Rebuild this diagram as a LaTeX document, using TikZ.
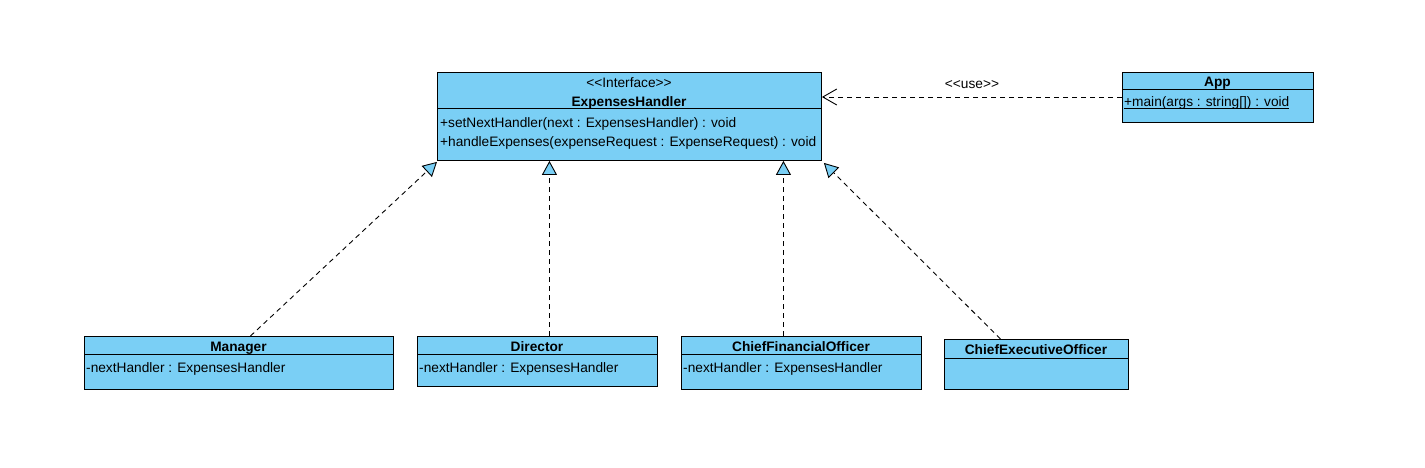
\documentclass[tikz,border=0pt]{standalone}
\usepackage{fontspec}
\setmainfont{Liberation Sans}[Ligatures=TeXOff]
\usetikzlibrary{math}
\usetikzlibrary{arrows.meta}
\definecolor{clsblue}{RGB}{122,207,245}
\newcommand{\undl}[1]{\setbox0\hbox{#1}\rlap{\rule[-2.2pt]{\wd0}{0.8pt}}\box0}
\tikzset{
	box/.style={draw, fill=clsblue, line width=0.9pt, inner sep=0pt, anchor=north west},
	txt/.style={inner sep=0pt, font=\fontsize{13.7}{16}\selectfont},
	realize/.style={dash pattern=on 5pt off 4pt, line width=0.9pt, -{Triangle[length=14pt,width=15pt,fill=clsblue]}},
	usedep/.style={dash pattern=on 5pt off 4pt, line width=0.9pt, -{Straight Barb[length=14pt,width=16pt]}},
}

\begin{document}
\begin{tikzpicture}[x=1pt,y=-1pt]
	\useasboundingbox (0,0) rectangle (1425,467);
	\tikzmath{\ehx=437; \ehw=384; \eht=72; \ehm=108; \ehb=160;
	\apx=1122; \apw=191; \apt=72; \apm=89; \apb=122;
	\rowt=336; \rowm=354; \rowb=389; \drb=386;
	\mgx=84; \mgw=309;
	\drx=417; \drw=240;
	\cfx=681; \cfw=240;
	\cex=944; \cew=184; \cet=339; \cem=358;
	}
	% boxes
	\node[box, minimum width=\ehw, minimum height=\ehm-\eht] (ehh) at (\ehx,\eht) {};
	\node[box, minimum width=\ehw, minimum height=\ehb-\ehm] (ehbd) at (\ehx,\ehm) {};
	\node[box, minimum width=\apw, minimum height=\apm-\apt] (aph) at (\apx,\apt) {};
	\node[box, minimum width=\apw, minimum height=\apb-\apm] (apbd) at (\apx,\apm) {};
	\node[box, minimum width=\mgw, minimum height=\rowm-\rowt] (mgh) at (\mgx,\rowt) {};
	\node[box, minimum width=\mgw, minimum height=\rowb-\rowm] (mgbd) at (\mgx,\rowm) {};
	\node[box, minimum width=\drw, minimum height=\rowm-\rowt] (drh) at (\drx,\rowt) {};
	\node[box, minimum width=\drw, minimum height=\drb-\rowm] (drbd) at (\drx,\rowm) {};
	\node[box, minimum width=\cfw, minimum height=\rowm-\rowt] (cfh) at (\cfx,\rowt) {};
	\node[box, minimum width=\cfw, minimum height=\rowb-\rowm] (cfbd) at (\cfx,\rowm) {};
	\node[box, minimum width=\cew, minimum height=\cem-\cet] (ceh) at (\cex,\cet) {};
	\node[box, minimum width=\cew, minimum height=\rowb-\cem] (cebd) at (\cex,\cem) {};
	% texts
	\node[txt, anchor=base] (ehst) at (\ehx+\ehw/2,87) {<<Interface>>};
	\node[txt, anchor=base] (ehname) at (\ehx+\ehw/2,106) {\bfseries ExpensesHandler};
	\node[txt, anchor=base west] (ehopa) at (\ehx+3,127) {+setNextHandler(next : ExpensesHandler) : void};
	\node[txt, anchor=base west] (ehopb) at (\ehx+3,146) {+handleExpenses(expenseRequest : ExpenseRequest) : void};
	\node[txt, anchor=base] (apname) at (\apx+\apw/2,86) {\bfseries App};
	\node[txt, anchor=base west] (apop) at (\apx+2,106.5) {\undl{+main(args : string[]) : void}};
	\node[txt, anchor=base] (mgname) at (\mgx+\mgw/2,351) {\bfseries Manager};
	\node[txt, anchor=base west] (mgatt) at (\mgx+2,372) {-nextHandler : ExpensesHandler};
	\node[txt, anchor=base] (drname) at (\drx+\drw/2,351) {\bfseries Director};
	\node[txt, anchor=base west] (dratt) at (\drx+2,372) {-nextHandler : ExpensesHandler};
	\node[txt, anchor=base] (cfname) at (\cfx+\cfw/2,351) {\bfseries ChiefFinancialOfficer};
	\node[txt, anchor=base west] (cfatt) at (\cfx+2,372) {-nextHandler : ExpensesHandler};
	\node[txt, anchor=base] (cename) at (\cex+\cew/2,354) {\bfseries ChiefExecutiveOfficer};
	% connectors
	\draw[realize] ([xshift=11.5pt]mgh.north) -- ([yshift=-1pt]ehbd.south west);
	\draw[realize] ([xshift=12pt]drh.north) -- ([xshift=12pt]drh.north |- ehbd.south);
	\draw[realize] ([xshift=-18pt]cfh.north) -- ([xshift=-18pt]cfh.north |- ehbd.south);
	\draw[realize] ([xshift=-36pt]ceh.north) -- ([xshift=2pt,yshift=-2pt]ehbd.south east);
	\draw[usedep] ([yshift=-8pt]apbd.north west) -- ([yshift=-8pt]apbd.north west -| ehh.east)
		node[txt, midway, above=8pt] (uselbl) {<<use>>};
\end{tikzpicture}
\end{document}
